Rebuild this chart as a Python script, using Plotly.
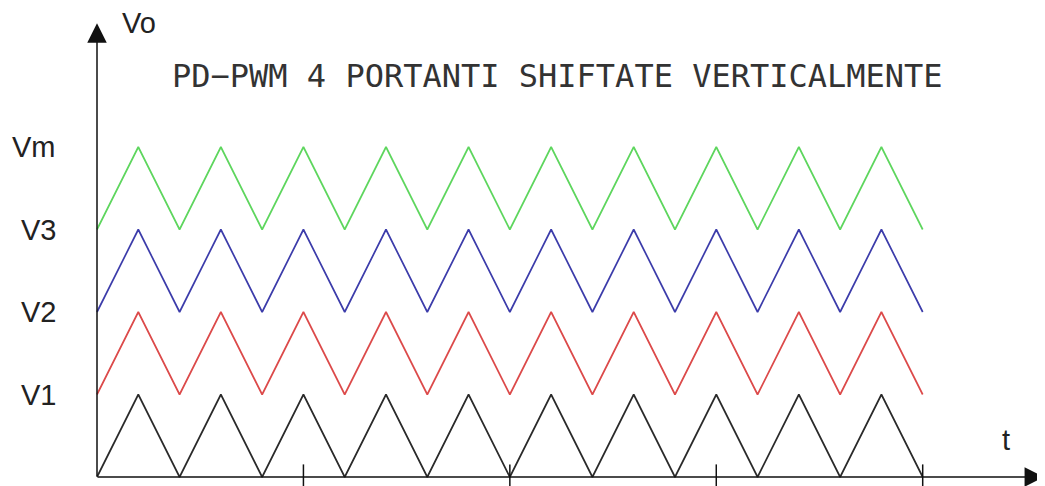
import plotly.graph_objects as go

# ---- data ----
t = [0, 0.5, 1, 1.5, 2, 2.5, 3, 3.5, 4, 4.5, 5, 5.5, 6, 6.5, 7, 7.5, 8, 8.5, 9, 9.5, 10]
carrier1 = [0, 1, 0, 1, 0, 1, 0, 1, 0, 1, 0, 1, 0, 1, 0, 1, 0, 1, 0, 1, 0]
carrier2 = [1, 2, 1, 2, 1, 2, 1, 2, 1, 2, 1, 2, 1, 2, 1, 2, 1, 2, 1, 2, 1]
carrier3 = [2, 3, 2, 3, 2, 3, 2, 3, 2, 3, 2, 3, 2, 3, 2, 3, 2, 3, 2, 3, 2]
carrier4 = [3, 4, 3, 4, 3, 4, 3, 4, 3, 4, 3, 4, 3, 4, 3, 4, 3, 4, 3, 4, 3]
level_labels = ["V1", "V2", "V3", "Vm"]
level_values = [1, 2, 3, 4]
tick_t = [2.5, 5, 7.5, 10]
title_text = "PD\u2212PWM 4 PORTANTI SHIFTATE VERTICALMENTE"

colors = ["#2a2a2a", "#dc4a4a", "#3c3caa", "#5ed65e"]

fig = go.Figure()
for ys, c in zip([carrier1, carrier2, carrier3, carrier4], colors):
    fig.add_trace(go.Scatter(x=t, y=ys, mode="lines",
                             line=dict(color=c, width=1.7),
                             hoverinfo="skip", showlegend=False))

# tick marks on the time axis
fig.add_trace(go.Scatter(x=tick_t, y=[0] * len(tick_t), mode="markers",
                         marker=dict(symbol="line-ns", size=18,
                                     line=dict(color="#111", width=1.5)),
                         hoverinfo="skip", showlegend=False))

annotations = []
# axes with arrows
annotations.append(dict(x=11.47, y=0, ax=-0.01, ay=0, xref="x", yref="y",
                        axref="x", ayref="y", showarrow=True, arrowhead=2,
                        arrowsize=2.6, arrowwidth=1.5, arrowcolor="#111", text=""))
annotations.append(dict(x=0, y=5.50, ax=0, ay=-0.01, xref="x", yref="y",
                        axref="x", ayref="y", showarrow=True, arrowhead=2,
                        arrowsize=2.6, arrowwidth=1.5, arrowcolor="#111", text=""))

label_font = dict(family="Liberation Sans, Arial, sans-serif", size=29, color="#222")
for lab, v in zip(level_labels, level_values):
    annotations.append(dict(x=-0.47, y=v, xref="x", yref="y", text=lab,
                            showarrow=False, xanchor="right", yanchor="middle",
                            font=label_font))
annotations.append(dict(x=0.51, y=5.50, xref="x", yref="y", text="Vo",
                        showarrow=False, xanchor="center", yanchor="middle",
                        font=label_font))
annotations.append(dict(x=11.01, y=0.45, xref="x", yref="y", text="t",
                        showarrow=False, xanchor="center", yanchor="middle",
                        font=label_font))
annotations.append(dict(x=5.577, y=4.86, xref="x", yref="y", text=title_text,
                        showarrow=False, xanchor="center", yanchor="middle",
                        font=dict(family="DejaVu Sans Mono, monospace", size=32, color="#333")))

fig.update_layout(
    width=1045, height=486,
    margin=dict(l=0, r=0, t=0, b=0),
    paper_bgcolor="white", plot_bgcolor="white",
    xaxis=dict(range=[-1.0779, 11.578], visible=False, fixedrange=True),
    yaxis=dict(range=[-0.2061, 5.6848], visible=False, fixedrange=True),
    annotations=annotations,
    showlegend=False,
)

fig.write_html("out.html")
